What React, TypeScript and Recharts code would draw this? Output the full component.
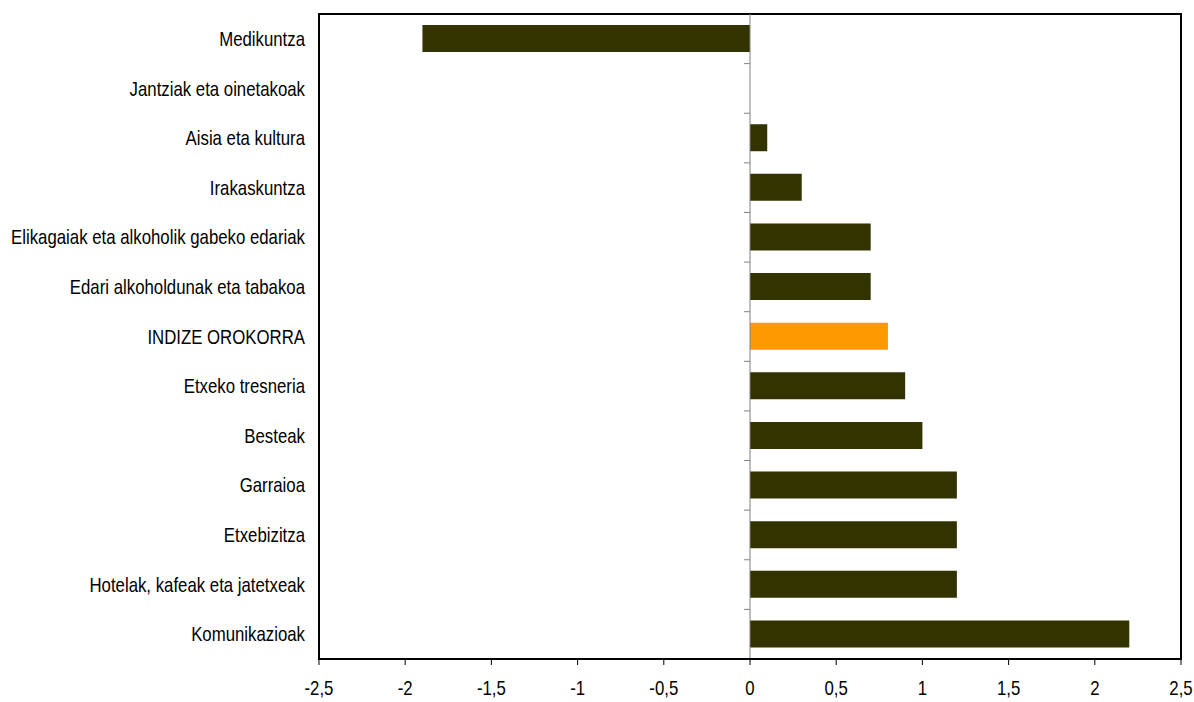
import { BarChart, Bar, XAxis, YAxis, Cell, ReferenceLine, ReferenceArea } from "recharts";

const categories = [
  "Medikuntza",
  "Jantziak eta oinetakoak",
  "Aisia eta kultura",
  "Irakaskuntza",
  "Elikagaiak eta alkoholik gabeko edariak",
  "Edari alkoholdunak eta tabakoa",
  "INDIZE OROKORRA",
  "Etxeko tresneria",
  "Besteak",
  "Garraioa",
  "Etxebizitza",
  "Hotelak, kafeak eta jatetxeak",
  "Komunikazioak",
];
const values = [-1.9, 0, 0.1, 0.3, 0.7, 0.7, 0.8, 0.9, 1.0, 1.2, 1.2, 1.2, 2.2];
const xTicks = [-2.5, -2, -1.5, -1, -0.5, 0, 0.5, 1, 1.5, 2, 2.5];
const highlight = "INDIZE OROKORRA";

const data = categories.map((name, i) => ({ name, value: values[i] }));

const FONT = "'Liberation Sans', Arial, sans-serif";
const SQUEEZE = 0.84;

// condensed label, squeezed horizontally around its anchor
function NarrowTick(props: any) {
  const { x, y, payload, textAnchor, shift, fmt } = props;
  const label = fmt ? fmt(payload.value) : payload.value;
  return (
    <g transform={`translate(${x},${y}) scale(${SQUEEZE},1)`}>
      <text x={0} y={0} dy={shift} textAnchor={textAnchor} fontSize={20} fontFamily={FONT} fill="#000">
        {label}
      </text>
    </g>
  );
}

// zero line with small ticks at the category boundaries
function ZeroLine(props: any) {
  const { x1, y1, y2 } = props;
  const top = Math.min(y1, y2);
  const bottom = Math.max(y1, y2);
  const step = (bottom - top) / categories.length;
  const ticks = [];
  for (let i = 1; i < categories.length; i++) {
    const y = top + step * i;
    ticks.push(<line key={i} x1={x1 - 6} x2={x1} y1={y} y2={y} stroke="#808080" strokeWidth={1} />);
  }
  return (
    <g>
      <line x1={x1} x2={x1} y1={top} y2={bottom} stroke="#808080" strokeWidth={1} />
      {ticks}
    </g>
  );
}

const fmtComma = (v: number) => String(v).replace(".", ",");

export default function App() {
  return (
    <div style={{ position: "absolute", left: 0, top: 0, background: "#fff" }}>
      <BarChart
        width={1194}
        height={702}
        data={data}
        layout="vertical"
        margin={{ top: 14, right: 13, bottom: 0, left: 0 }}
      >
        <XAxis
          type="number"
          domain={[-2.5, 2.5]}
          ticks={xTicks}
          interval={0}
          height={43}
          tick={<NarrowTick fmt={fmtComma} shift="0.71em" />}
          axisLine={{ stroke: "#000", strokeWidth: 2 }}
          tickLine={{ stroke: "#000" }}
          tickSize={6}
          tickMargin={16}
        />
        <YAxis
          type="category"
          dataKey="name"
          width={319}
          interval={0}
          tick={<NarrowTick shift="0.355em" />}
          axisLine={{ stroke: "#000", strokeWidth: 2 }}
          tickLine={false}
          tickMargin={8}
        />
        <ReferenceArea x1={-2.5} x2={2.5} fill="none" stroke="#000" strokeWidth={2} />
        <ReferenceLine x={0} shape={<ZeroLine />} />
        <Bar dataKey="value" barSize={27} isAnimationActive={false}>
          {data.map((d) => (
            <Cell key={d.name} fill={d.name === highlight ? "#FF9900" : "#333300"} />
          ))}
        </Bar>
      </BarChart>
    </div>
  );
}
